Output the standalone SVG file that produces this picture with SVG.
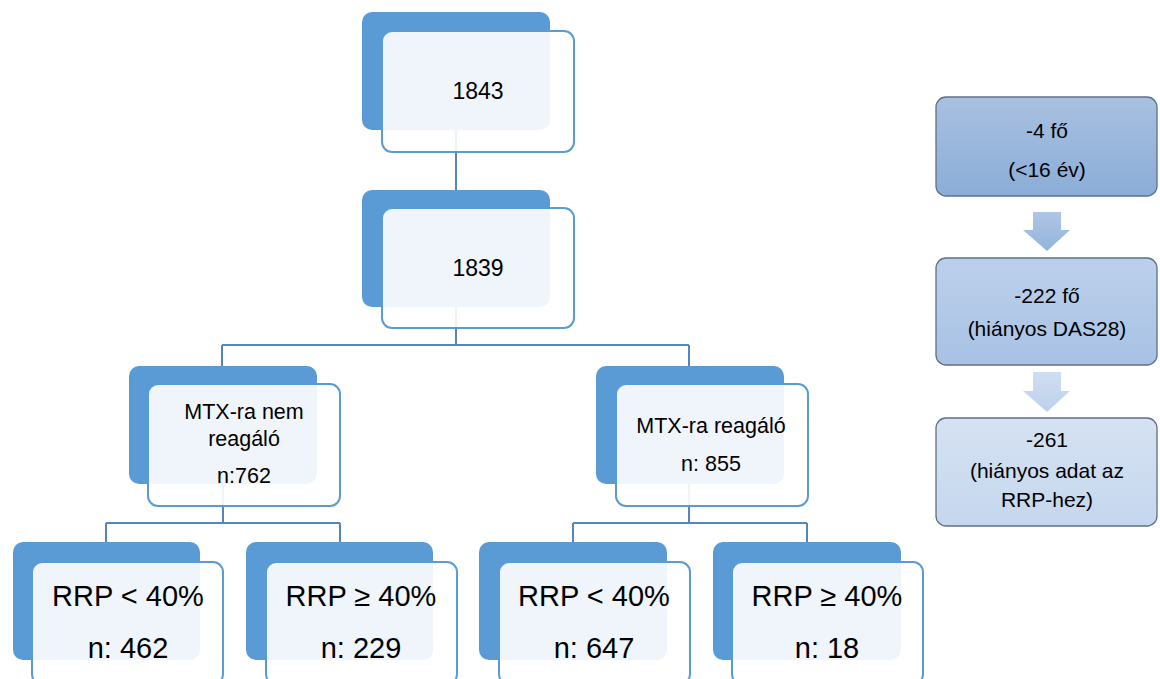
<svg xmlns="http://www.w3.org/2000/svg" width="1160" height="679" viewBox="0 0 1160 679">
<style>
.back{fill:#5B9BD5}
.front{fill:#FFFFFF;fill-opacity:0.9;stroke:#5B9BD5;stroke-width:2}
.conn{fill:none;stroke:#5585C0;stroke-width:2}
.t{font-family:"Liberation Sans",Arial,sans-serif;fill:#000;text-anchor:middle}
.m{font-size:23px}
.s{font-size:21.5px}
.l{font-size:29px}
.r{font-size:21px}
.side{stroke:#5F6F86;stroke-width:1.3}
</style>
<defs>
<linearGradient id="g1" x1="0" y1="0" x2="0" y2="1"><stop offset="0" stop-color="#A9C0E0"/><stop offset="1" stop-color="#8BADD8"/></linearGradient>
<linearGradient id="g2" x1="0" y1="0" x2="0" y2="1"><stop offset="0" stop-color="#BCD0EB"/><stop offset="1" stop-color="#A8C2E4"/></linearGradient>
<linearGradient id="g3" x1="0" y1="0" x2="0" y2="1"><stop offset="0" stop-color="#D5E2F2"/><stop offset="1" stop-color="#C5D7EE"/></linearGradient>
<linearGradient id="ga1" x1="0" y1="0" x2="0" y2="1"><stop offset="0" stop-color="#AFC6E5"/><stop offset="1" stop-color="#93B3DC"/></linearGradient>
<linearGradient id="ga2" x1="0" y1="0" x2="0" y2="1"><stop offset="0" stop-color="#D0DEF1"/><stop offset="1" stop-color="#BDD0EC"/></linearGradient>
</defs>
<g id="connectors">
<path class="conn" d="M456 130 V190"/>
<path class="conn" d="M456 307 V345 M222 345 H689 M222 345 V366 M689 345 V366"/>
<path class="conn" d="M223 484 V523 M106 523 H340 M106 523 V542 M340 523 V542"/>
<path class="conn" d="M689 484 V523 M573 523 H807 M573 523 V542 M807 523 V542"/>
</g>
<g id="n1843">
<rect class="back" x="362" y="12" width="188" height="118" rx="10"/>
<rect class="front" x="382" y="31" width="192" height="121" rx="10"/>
<text class="t m" x="478" y="99">1843</text>
</g>
<g id="n1839">
<rect class="back" x="362" y="190" width="188" height="117" rx="10"/>
<rect class="front" x="382" y="208" width="192" height="120" rx="10"/>
<text class="t m" x="478" y="276">1839</text>
</g>
<g id="nMTXnem">
<rect class="back" x="129" y="366" width="188" height="118" rx="10"/>
<rect class="front" x="148" y="384" width="192" height="122" rx="10"/>
<text class="t s" x="244" y="419">MTX-ra nem</text>
<text class="t s" x="244" y="446">reagáló</text>
<text class="t s" x="244" y="483">n:762</text>
</g>
<g id="nMTXreag">
<rect class="back" x="596" y="366" width="188" height="118" rx="10"/>
<rect class="front" x="616" y="384" width="192" height="122" rx="10"/>
<text class="t s" x="711" y="433">MTX-ra reagáló</text>
<text class="t s" x="711" y="471">n: 855</text>
</g>
<g id="leaf1">
<rect class="back" x="13" y="542" width="187" height="118" rx="10"/>
<rect class="front" x="32" y="562" width="191" height="122" rx="10"/>
<text class="t l" x="128" y="606">RRP &lt; 40%</text>
<text class="t l" x="128" y="658">n: 462</text>
</g>
<g id="leaf2">
<rect class="back" x="246" y="542" width="187" height="118" rx="10"/>
<rect class="front" x="266" y="562" width="191" height="122" rx="10"/>
<text class="t l" x="361" y="606">RRP ≥ 40%</text>
<text class="t l" x="361" y="658">n: 229</text>
</g>
<g id="leaf3">
<rect class="back" x="479" y="542" width="188" height="118" rx="10"/>
<rect class="front" x="499" y="562" width="191" height="122" rx="10"/>
<text class="t l" x="594" y="606">RRP &lt; 40%</text>
<text class="t l" x="594" y="658">n: 647</text>
</g>
<g id="leaf4">
<rect class="back" x="713" y="542" width="188" height="118" rx="10"/>
<rect class="front" x="732" y="562" width="191" height="122" rx="10"/>
<text class="t l" x="827" y="606">RRP ≥ 40%</text>
<text class="t l" x="827" y="658">n: 18</text>
</g>
<g id="excl1">
<rect class="side" x="936" y="97" width="221" height="99" rx="10" fill="url(#g1)"/>
<text class="t r" x="1047" y="138">-4 fő</text>
<text class="t r" x="1047" y="177">(&lt;16 év)</text>
</g>
<g id="arrow1">
<path d="M1033 212 H1061 V230 H1070 L1047 251 L1023 230 H1033 Z" fill="url(#ga1)"/>
</g>
<g id="excl2">
<rect class="side" x="936" y="258" width="221" height="107" rx="10" fill="url(#g2)"/>
<text class="t r" x="1047" y="303">-222 fő</text>
<text class="t r" x="1047" y="336">(hiányos DAS28)</text>
</g>
<g id="arrow2">
<path d="M1033 372 H1061 V391 H1070 L1047 412 L1023 391 H1033 Z" fill="url(#ga2)"/>
</g>
<g id="excl3">
<rect class="side" x="936" y="418" width="221" height="108" rx="10" fill="url(#g3)"/>
<text class="t r" x="1047" y="447">-261</text>
<text class="t r" x="1047" y="478">(hiányos adat az</text>
<text class="t r" x="1047" y="507">RRP-hez)</text>
</g>
</svg>
